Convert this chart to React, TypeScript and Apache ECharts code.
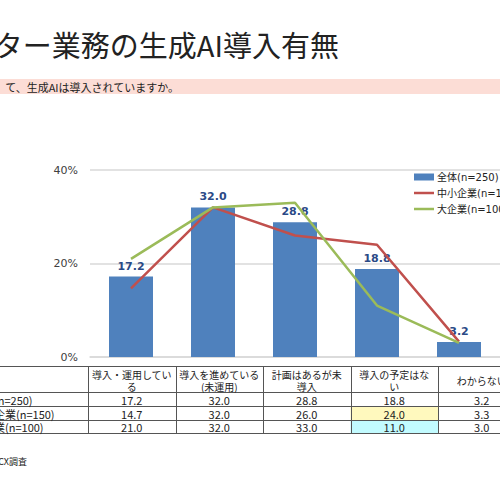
import React, { useEffect, useRef } from "react";
import * as echarts from "echarts";

// ---- data ----
const categories = ["導入・運用している", "導入を進めている(未運用)", "計画はあるが未導入", "導入の予定はない", "わからない"];
const tableHeaders = ["導入・運用してい\nる", "導入を進めている\n(未運用)", "計画はあるが未\n導入", "導入の予定はな\nい", "わからない"];
const seriesNames = ["全体(n=250)", "中小企業(n=150)", "大企業(n=100)"];
const totalValues = [17.2, 32.0, 28.8, 18.8, 3.2];
const smeValues = [14.7, 32.0, 26.0, 24.0, 3.3];
const largeValues = [21.0, 32.0, 33.0, 11.0, 3.0];
const yTicks = { min: 0, max: 40, interval: 20 };
const titleText = "ター業務の生成AI導入有無";
const questionText = "て、生成AIは導入されていますか。";
const sourceText = "CX調査";

// ---- layout constants ----
const GRID_LEFT = 90;
const GRID_TOP = 170;
const GRID_H = 187;
const BAND = 87.5;
const TABLE_LEFT = 88;
const ROW_Y = [366, 392, 406, 420, 433];

const FONT_JP = "'Noto Sans CJK JP', 'Noto Sans', sans-serif";
const FONT_LAT = "'DejaVu Sans', 'Noto Sans CJK JP', sans-serif";
const LINE_ICON = "path://M0,0H20V2.5H0Z";

function buildTable() {
  const els: any[] = [];
  const colX = (i: number) => TABLE_LEFT + i * BAND;
  const rows = [totalValues, smeValues, largeValues];
  els.push({
    type: "rect",
    shape: { x: colX(3), y: ROW_Y[2], width: BAND, height: ROW_Y[3] - ROW_Y[2] },
    style: { fill: "#FFF9BE" },
  });
  els.push({
    type: "rect",
    shape: { x: colX(3), y: ROW_Y[3], width: BAND, height: ROW_Y[4] - ROW_Y[3] },
    style: { fill: "#C2FBFF" },
  });
  ROW_Y.forEach((y) => {
    els.push({
      type: "line",
      shape: { x1: 0, y1: y + 0.5, x2: 500, y2: y + 0.5 },
      style: { stroke: "#555555", lineWidth: 1 },
    });
  });
  for (let i = 0; i < 6; i++) {
    const x = Math.round(colX(i)) + 0.5;
    els.push({
      type: "line",
      shape: { x1: x, y1: ROW_Y[0], x2: x, y2: ROW_Y[4] },
      style: { stroke: "#555555", lineWidth: 1 },
    });
  }
  const headerMid = (ROW_Y[0] + ROW_Y[1]) / 2 + 1;
  tableHeaders.forEach((h, i) => {
    const lines = h.split("\n");
    lines.forEach((ln, k) => {
      els.push({
        type: "text",
        x: colX(i) + BAND / 2,
        y: headerMid + (k - (lines.length - 1) / 2) * 12,
        style: {
          text: ln,
          fontSize: 10,
          fontFamily: FONT_JP,
          fill: "#222222",
          textAlign: "center",
          textVerticalAlign: "middle",
        },
      });
    });
  });
  rows.forEach((vals, r) => {
    const yc = (ROW_Y[r + 1] + ROW_Y[r + 2]) / 2 + 0.5;
    els.push({
      type: "text",
      x: -28,
      y: yc,
      style: {
        text: seriesNames[r],
        fontSize: 11,
        fontFamily: FONT_JP,
        fill: "#222222",
        textAlign: "left",
        textVerticalAlign: "middle",
      },
    });
    vals.forEach((v, i) => {
      els.push({
        type: "text",
        x: colX(i) + BAND / 2,
        y: yc,
        style: {
          text: v.toFixed(1),
          fontSize: 11,
          fontFamily: FONT_JP,
          fill: "#222222",
          textAlign: "center",
          textVerticalAlign: "middle",
        },
      });
    });
  });
  return els;
}

export default function App() {
  const ref = useRef<HTMLDivElement>(null);
  useEffect(() => {
    if (!ref.current) return;
    const chart = echarts.init(ref.current, undefined, { renderer: "svg" });
    chart.setOption({
      animation: false,
      backgroundColor: "#ffffff",
      grid: { left: GRID_LEFT, top: GRID_TOP, width: BAND * 5, height: GRID_H, containLabel: false },
      legend: {
        orient: "vertical",
        left: 414,
        top: 171,
        itemWidth: 20,
        itemHeight: 7,
        itemGap: 4,
        symbolKeepAspect: true,
        textStyle: { fontSize: 10, fontFamily: FONT_LAT, color: "#222222", lineHeight: 12, padding: [0, 0, 0, -2] },
        padding: 0,
        data: [
          { name: seriesNames[0], icon: "rect" },
          { name: seriesNames[1], icon: LINE_ICON },
          { name: seriesNames[2], icon: LINE_ICON },
        ],
      },
      xAxis: {
        type: "category",
        data: categories,
        axisLabel: { show: false },
        axisTick: { show: false },
        axisLine: { lineStyle: { color: "#D9D9D9", width: 1.5 } },
      },
      yAxis: {
        type: "value",
        min: yTicks.min,
        max: yTicks.max,
        interval: yTicks.interval,
        axisLabel: { formatter: "{value}%", fontSize: 11, fontFamily: FONT_LAT, color: "#404040", margin: 12 },
        splitLine: { lineStyle: { color: "#D9D9D9", width: 1.5 } },
        axisLine: { show: false },
        axisTick: { show: false },
      },
      series: [
        {
          name: seriesNames[0],
          type: "bar",
          data: totalValues,
          barWidth: 44,
          itemStyle: { color: "#4F81BD" },
          label: {
            show: true,
            position: "top",
            distance: 5,
            formatter: (p: any) => p.value.toFixed(1),
            fontFamily: FONT_LAT,
            fontWeight: "bold",
            fontSize: 11,
            color: "#2B4A86",
          },
          z: 2,
        },
        {
          name: seriesNames[1],
          type: "line",
          data: smeValues,
          symbol: "none",
          lineStyle: { color: "#C0504D", width: 2.5 },
          itemStyle: { color: "#C0504D" },
          z: 3,
        },
        {
          name: seriesNames[2],
          type: "line",
          data: largeValues,
          symbol: "none",
          lineStyle: { color: "#9BBB59", width: 2.5 },
          itemStyle: { color: "#9BBB59" },
          z: 4,
        },
      ],
      graphic: [
        {
          type: "text",
          x: 339,
          y: 44,
          style: {
            text: titleText,
            fontSize: 29,
            fontFamily: FONT_JP,
            fill: "#222222",
            textAlign: "right",
            textVerticalAlign: "middle",
          },
        },
        {
          type: "rect",
          shape: { x: 0, y: 79, width: 500, height: 15 },
          style: { fill: "#FCDDD6" },
        },
        {
          type: "text",
          x: 179,
          y: 87,
          style: {
            text: questionText,
            fontSize: 11,
            fontFamily: FONT_JP,
            fill: "#222222",
            textAlign: "right",
            textVerticalAlign: "middle",
          },
        },
        ...buildTable(),
        {
          type: "text",
          x: 27,
          y: 461,
          style: {
            text: sourceText,
            fontSize: 9,
            fontFamily: FONT_JP,
            fill: "#222222",
            textAlign: "right",
            textVerticalAlign: "middle",
          },
        },
      ],
    });
    return () => chart.dispose();
  }, []);
  return (
    <div style={{ position: "absolute", left: 0, top: 0, width: 500, height: 500, background: "#fff" }}>
      <div ref={ref} style={{ width: 500, height: 500 }} />
    </div>
  );
}
